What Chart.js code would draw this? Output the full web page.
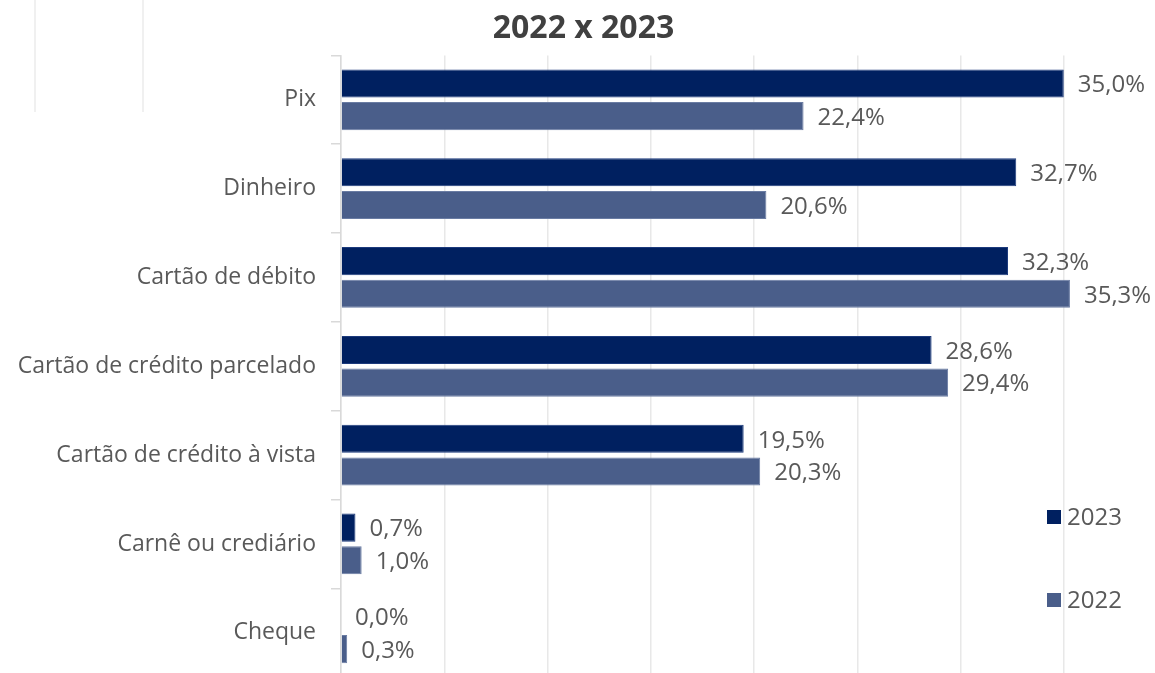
<!DOCTYPE html>
<html>
<head>
<meta charset="utf-8">
<script src="https://cdn.jsdelivr.net/npm/chart.js@4"></script>
<style>
  html, body { margin: 0; padding: 0; background: #fff; overflow: hidden; width: 1155px; height: 673px; }
  #wrap { position: absolute; left: 0; top: 0; }
  .ghost { position: absolute; top: 0; width: 2px; height: 112px; background: #f0f0f0; }
</style>
</head>
<body>
<div class="ghost" style="left:34px"></div>
<div class="ghost" style="left:142px"></div>
<div id="wrap"><canvas id="chart" width="1170" height="706"></canvas></div>
<script>
// categories and values (percent)
var categorias = ['Pix', 'Dinheiro', 'Cartão de débito', 'Cartão de crédito parcelado', 'Cartão de crédito à vista', 'Carnê ou crediário', 'Cheque'];
var anos = ['2023', '2022'];
var valores2023 = [35.0, 32.7, 32.3, 28.6, 19.5, 0.7, 0.0];
var valores2022 = [22.4, 20.6, 35.3, 29.4, 20.3, 1.0, 0.3];

var corTexto = '#595959';
var fonte = '"Open Sans", "DejaVu Sans", sans-serif';

//! rotulos de dados ao lado das barras
var rotulos = {
    id: 'rotulos',
    afterDatasetsDraw: function (chart) {
        var ctx = chart.ctx;
        ctx.save();
        ctx.font = '24px ' + fonte;
        ctx.fillStyle = corTexto;
        ctx.textBaseline = 'middle';
        ctx.textAlign = 'left';
        chart.data.datasets.forEach(function (ds, i) {
            chart.getDatasetMeta(i).data.forEach(function (bar, j) {
                var txt = ds.data[j].toFixed(1).replace('.', ',') + '%';
                ctx.fillText(txt, bar.x + 14, bar.y + 2);
            });
        });
        ctx.restore();
    }
};

//! legenda dentro do grafico
var legenda = {
    id: 'legenda',
    afterDraw: function (chart) {
        var ctx = chart.ctx;
        var pos = [517, 600];
        ctx.save();
        ctx.font = '24px ' + fonte;
        ctx.textBaseline = 'middle';
        chart.data.datasets.forEach(function (ds, i) {
            ctx.fillStyle = ds.backgroundColor;
            ctx.fillRect(1047, pos[i] - 7, 14, 14);
            ctx.fillStyle = corTexto;
            ctx.fillText(ds.label, 1067, pos[i] + 1);
        });
        ctx.restore();
    }
};

var ctx = document.getElementById('chart').getContext('2d');
var grafico = new Chart(ctx, {
    type: 'bar',
    data: {
        labels: categorias,
        datasets: [
            {
                label: anos[0],
                data: valores2023,
                backgroundColor: '#002060',
                borderColor: '#1c3a7c',
                borderWidth: 1,
                categoryPercentage: 0.735,
                barPercentage: 0.86
            },
            {
                label: anos[1],
                data: valores2022,
                backgroundColor: '#4a5e8a',
                borderColor: '#6a7ca3',
                borderWidth: 1,
                categoryPercentage: 0.735,
                barPercentage: 0.86
            }]
    },
    options: {
        indexAxis: 'y',
        responsive: false,
        animation: false,
        layout: { padding: { left: 0, right: 3, top: 0, bottom: 5 } },
        plugins: {
            legend: { display: false },
            tooltip: { enabled: false },
            title: {
                display: true,
                text: '2022 x 2023',
                color: '#404040',
                font: { family: fonte, size: 32, weight: 'bold' },
                padding: { top: 10, bottom: 7 }
            }
        },
        scales: {
            x: {
                min: 0,
                max: 40,
                ticks: { display: false, stepSize: 5 },
                border: { display: false },
                grid: { color: '#e8e8e8', lineWidth: 1.5, drawTicks: false },
                afterFit: function (scale) { scale.height = 0; }
            },
            y: {
                border: { color: '#d9d9d9', width: 1.5 },
                grid: { drawOnChartArea: false, color: '#d9d9d9', lineWidth: 1.5, tickLength: 10 },
                ticks: { color: corTexto, font: { family: fonte, size: 23 }, padding: 15 },
                afterFit: function (scale) { scale.width = 341; }
            }
        }
    },
    plugins: [rotulos, legenda]
});
</script>
</body>
</html>
